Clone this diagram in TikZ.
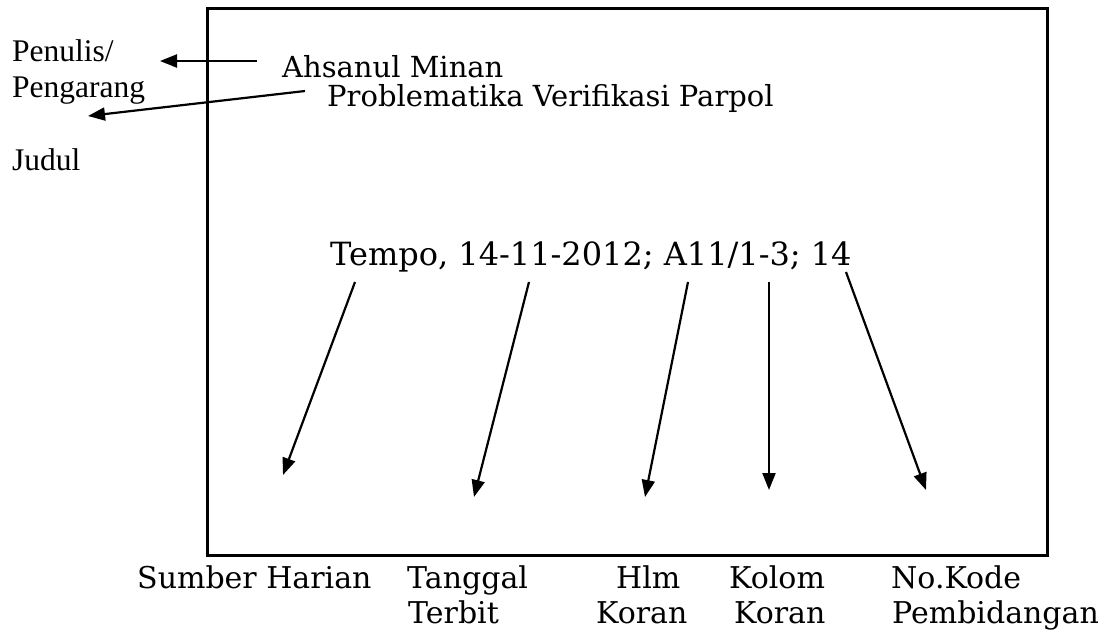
\documentclass[tikz,border=0pt]{standalone}
\usepackage{fontspec}
\setmainfont{DejaVu Serif}
\newfontfamily\timesf{Liberation Serif}
\usetikzlibrary{arrows.meta}
\begin{document}
\begin{tikzpicture}[x=1pt,y=-1pt,
  lbl/.style={anchor=base west,inner sep=0pt,font=\fontsize{30}{30}\selectfont},
  side/.style={anchor=base west,inner sep=0pt,font=\timesf\fontsize{31.5}{31.5}\selectfont},
  arr/.style={line width=2.2pt,-{Triangle[length=17pt,width=13pt]}},
  frame/.style={line width=3pt}]
\useasboundingbox (0,0) rectangle (1109,633);
\draw[frame] (207,8) rectangle (1047,555);
% side labels
\node[side] (penulis) at (12,61) {Penulis/};
\node[side] (pengarang) at (12,97) {Pengarang};
\node[side] (judul) at (12,170) {Judul};
% top texts
\node[lbl,font=\fontsize{29}{29}\selectfont] (author) at (282,77) {Ahsanul Minan};
\node[lbl,font=\fontsize{29}{29}\selectfont] (title) at (327,106) {Problematika Verifikasi Parpol};
\node[lbl,font=\fontsize{32}{32}\selectfont] (cite) at (330,265) {Tempo, 14-11-2012; A11/1-3; 14};
% bottom labels
\node[lbl] (sumber) at (137,588) {Sumber Harian};
\node[lbl] (tanggal) at (407,588) {Tanggal};
\node[lbl] (terbit) at (408,623) {Terbit};
\node[lbl] (hlm) at (616,588) {Hlm};
\node[lbl] (koran1) at (596,623) {Koran};
\node[lbl] (kolom) at (729,588) {Kolom};
\node[lbl] (koran2) at (734,623) {Koran};
\node[lbl] (nokode) at (891,588) {No.Kode};
\node[lbl] (pembid) at (892,623) {Pembidangan};
% arrow coordinates
\coordinate (a1s) at (257,61);  \coordinate (a1e) at (160,61);
\coordinate (a2s) at (305,91);  \coordinate (a2e) at (88,116);
\coordinate (b1s) at (355,282); \coordinate (b1e) at (283,475);
\coordinate (b2s) at (529,282); \coordinate (b2e) at (474,497);
\coordinate (b3s) at (688,282); \coordinate (b3e) at (645,497);
\coordinate (b4s) at (769,282); \coordinate (b4e) at (769,490);
\coordinate (b5s) at (846,272); \coordinate (b5e) at (926,490);
\draw[arr] (a1s) -- (a1e);
\draw[arr] (a2s) -- (a2e);
\draw[arr] (b1s) -- (b1e);
\draw[arr] (b2s) -- (b2e);
\draw[arr] (b3s) -- (b3e);
\draw[arr] (b4s) -- (b4e);
\draw[arr] (b5s) -- (b5e);
\end{tikzpicture}
\end{document}
